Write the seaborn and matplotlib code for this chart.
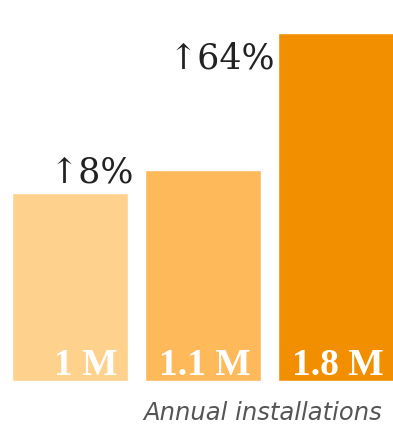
import matplotlib
matplotlib.use("Agg")
import matplotlib.pyplot as plt
import seaborn as sns
import pandas as pd

categories = ["Period 1", "Period 2", "Period 3"]
values = [1.0, 1.12, 1.85]
bar_labels = ["1 M", "1.1 M", "1.8 M"]
growth_labels = ["\u21918%", "\u219164%"]
colors = ["#FED18D", "#FDB95A", "#F28F00"]
caption = "Annual installations"

sns.set_theme(style="white")
df = pd.DataFrame({"period": categories, "value": values})

fig = plt.figure(figsize=(3.93, 4.24), dpi=100)
ax = fig.add_axes([0, 0, 1, 1])
sns.barplot(data=df, x="period", y="value", hue="period", palette=colors,
            width=0.87, legend=False, ax=ax, saturation=1)
ax.set_xlim(-0.526, 2.43)
ax.set_ylim(-0.229, 2.027)
ax.axis("off")

for i, lab in enumerate(bar_labels):
    ax.text(i + 0.36, 0.032, lab, ha="right", va="baseline", color="white",
            fontsize=27, fontweight="bold", family=["Liberation Serif", "DejaVu Serif"])

ann_y = [1.058, 1.66]
for i, lab in enumerate(growth_labels):
    ax.text(i + 0.48 + 0.06 * i, ann_y[i], lab, ha="right", va="baseline", color="#222222",
            fontsize=25, family=["DejaVu Serif", "DejaVu Sans"])

fig.text(0.972, 0.01, caption, ha="right", va="baseline", color="#555555",
         fontsize=17.5, style="italic", family="DejaVu Sans")

fig.savefig("out.png", dpi=100)
